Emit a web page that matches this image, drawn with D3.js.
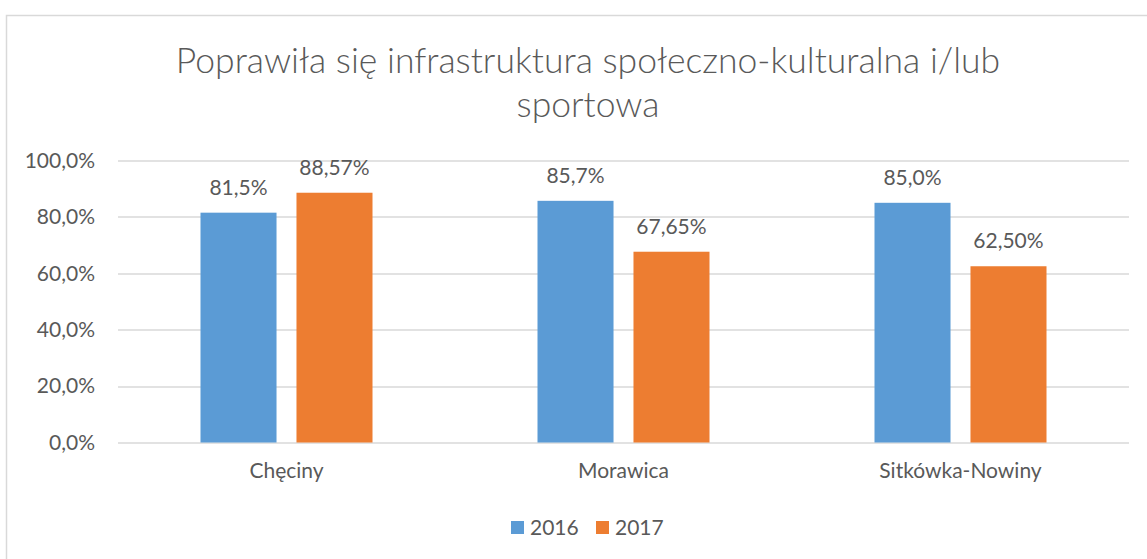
<!DOCTYPE html>
<html>
<head>
<meta charset="utf-8">
<script src="https://cdn.jsdelivr.net/npm/d3@7"></script>
<style>
  body { margin: 0; background: #fff; }
  text { font-family: Lato, "Open Sans", sans-serif; fill: #595959; }
</style>
</head>
<body>
<svg id="chart"></svg>
<script>
// data
const categories = ["Chęciny", "Morawica", "Sitkówka-Nowiny"];
const seriesNames = ["2016", "2017"];
const values2016 = [81.5, 85.7, 85.0];
const values2017 = [88.57, 67.65, 62.5];
const labelDecimals = [1, 2];
const yTicks = [0, 20, 40, 60, 80, 100];
const colors = ["#5B9BD5", "#ED7D31"];
const titleLines = ["Poprawiła się infrastruktura społeczno-kulturalna i/lub", "sportowa"];

const width = 1147, height = 559;
const margin = { top: 160.5, bottom: 116.5, left: 118, right: 18 };
const innerW = width - margin.left - margin.right;
const innerH = height - margin.top - margin.bottom;
const fontSize = "21px";

const svg = d3.select("#chart").attr("width", width).attr("height", height);

// chart border
svg.append("rect")
  .attr("x", 6.5).attr("y", 15.5)
  .attr("width", width + 10).attr("height", height + 10)
  .attr("fill", "none").attr("stroke", "#D9D9D9").attr("stroke-width", 1.5);

// title
const title = svg.append("g");
titleLines.forEach((t, i) => {
  title.append("text")
    .attr("x", 588).attr("y", 73 + i * 44)
    .attr("text-anchor", "middle")
    .attr("font-size", "35.5px")
    .style("font-weight", 300)
    .text(t);
});

const data = categories.map((c, i) => ({ key: c, values: [values2016[i], values2017[i]] }));

const x0 = d3.scaleBand().domain(categories).range([0, innerW]).padding(0);
const groupW = 172;
const x1 = d3.scaleBand().domain(seriesNames).range([0, groupW]).paddingInner(0.208);
const y = d3.scaleLinear().domain([0, 100]).range([innerH, 0]);

const chart = svg.append("g").attr("transform", `translate(${margin.left},${margin.top})`);

// gridlines
chart.append("g")
  .selectAll("line")
  .data(yTicks)
  .join("line")
  .attr("x1", 0).attr("x2", innerW)
  .attr("y1", d => Math.round(y(d)) + 0.5).attr("y2", d => Math.round(y(d)) + 0.5)
  .attr("stroke", "#D9D9D9").attr("stroke-width", 1.3);

// y axis labels
const yAxis = d3.axisLeft(y).tickValues(yTicks).tickSize(0).tickPadding(23)
  .tickFormat(d => d3.format(".1f")(d).replace(".", ",") + "%");
chart.append("g").call(yAxis)
  .call(g => g.select(".domain").remove())
  .call(g => g.selectAll("text").attr("font-size", fontSize).attr("fill", "#595959")
    .style("font-family", "Lato, 'Open Sans', sans-serif"));

// x axis labels
const xAxis = d3.axisBottom(x0).tickSize(0).tickPadding(21);
chart.append("g").attr("transform", `translate(0,${innerH})`).call(xAxis)
  .call(g => g.select(".domain").remove())
  .call(g => g.selectAll("text").attr("font-size", fontSize).attr("fill", "#595959")
    .style("font-family", "Lato, 'Open Sans', sans-serif"));

// bars
const groups = chart.selectAll(".group")
  .data(data)
  .join("g")
  .attr("class", "group")
  .attr("transform", d => `translate(${x0(d.key) + (x0.bandwidth() - groupW) / 2},0)`);

groups.selectAll("rect")
  .data(d => d.values.map((v, i) => ({ series: seriesNames[i], idx: i, value: v })))
  .join("rect")
  .attr("x", d => x1(d.series))
  .attr("width", x1.bandwidth())
  .attr("y", d => y(d.value))
  .attr("height", d => innerH - y(d.value))
  .attr("fill", d => colors[d.idx]);

groups.selectAll(".label")
  .data(d => d.values.map((v, i) => ({ series: seriesNames[i], idx: i, value: v })))
  .join("text")
  .attr("class", "label")
  .attr("x", d => x1(d.series) + x1.bandwidth() / 2)
  .attr("y", d => y(d.value) - 18)
  .attr("text-anchor", "middle")
  .attr("font-size", fontSize)
  .text(d => d3.format("." + labelDecimals[d.idx] + "f")(d.value).replace(".", ",") + "%");

// legend
const legend = svg.append("g").attr("transform", "translate(511,521)");
const legendItems = legend.selectAll("g")
  .data(seriesNames)
  .join("g")
  .attr("transform", (d, i) => `translate(${i * 85},0)`);
legendItems.append("rect")
  .attr("width", 13).attr("height", 13)
  .attr("fill", (d, i) => colors[i]);
legendItems.append("text")
  .attr("x", 19).attr("y", 14)
  .attr("font-size", fontSize)
  .text(d => d);
</script>
</body>
</html>
